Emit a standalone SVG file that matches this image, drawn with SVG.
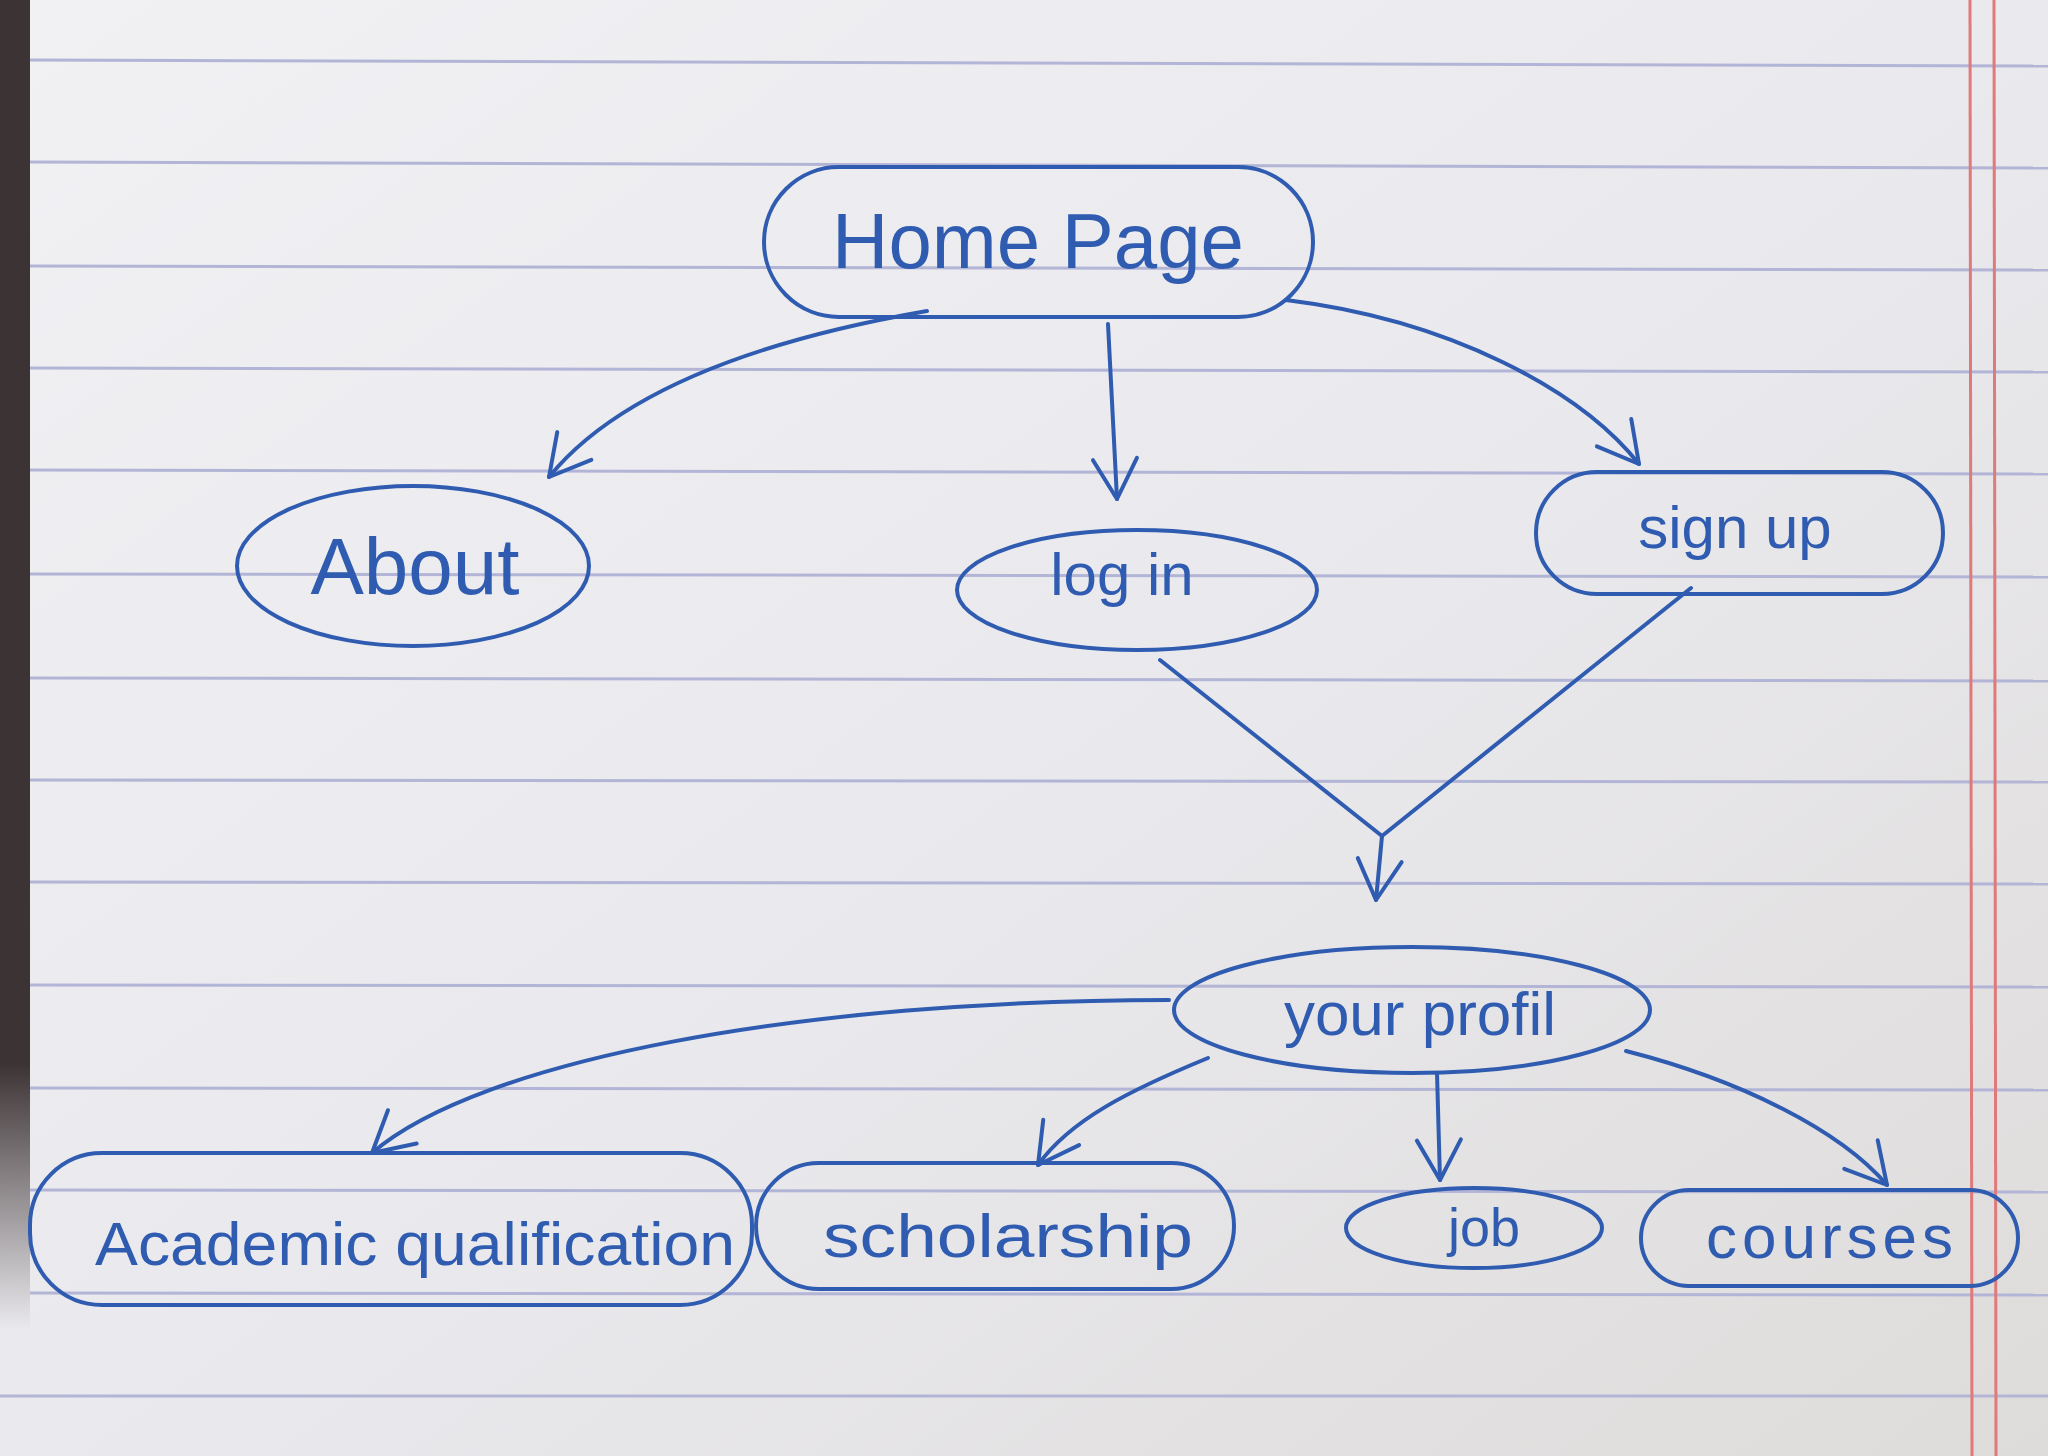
<svg xmlns="http://www.w3.org/2000/svg" width="2048" height="1456" viewBox="0 0 2048 1456">
  <defs>
    <linearGradient id="paper" x1="0" y1="0" x2="1" y2="1">
      <stop offset="0" stop-color="#f1f0f3"/>
      <stop offset="0.55" stop-color="#e9e8ec"/>
      <stop offset="1" stop-color="#dedcda"/>
    </linearGradient>
    <linearGradient id="edge" x1="0" y1="0" x2="0" y2="1">
      <stop offset="0" stop-color="#3c3334"/>
      <stop offset="0.8" stop-color="#3c3334"/>
      <stop offset="1" stop-color="#3c3334" stop-opacity="0"/>
    </linearGradient>
    <marker id="arr" viewBox="-50 -30 60 60" refX="0" refY="0" markerWidth="60" markerHeight="60" markerUnits="userSpaceOnUse" orient="auto">
      <path d="M -40,-22 L 0,0 L -40,22" fill="none" stroke="#2f5cb0" stroke-width="4" stroke-linecap="round" stroke-linejoin="round"/>
    </marker>
  </defs>
  <style>
    .ink { fill: none; stroke: #2f5cb0; stroke-width: 4; stroke-linecap: round; stroke-linejoin: round; }
    .lbl { font-family: "Liberation Sans", "DejaVu Sans", sans-serif; fill: #2f5cb0; text-anchor: middle; font-weight: normal; }
    .rule { stroke: #b3b5d6; stroke-width: 3; }
    .margin { stroke: #e07a7a; stroke-width: 3; }
  </style>

  <!-- paper background -->
  <g id="paper-bg">
    <rect x="0" y="0" width="2048" height="1456" fill="url(#paper)"/>
    <rect x="0" y="0" width="30" height="1330" fill="url(#edge)"/>
    <line class="rule" x1="30" y1="60" x2="2048" y2="66"/>
    <line class="rule" x1="30" y1="162" x2="2048" y2="168"/>
    <line class="rule" x1="30" y1="266" x2="2048" y2="270"/>
    <line class="rule" x1="30" y1="368" x2="2048" y2="372"/>
    <line class="rule" x1="30" y1="470" x2="2048" y2="474"/>
    <line class="rule" x1="30" y1="574" x2="2048" y2="577"/>
    <line class="rule" x1="30" y1="678" x2="2048" y2="681"/>
    <line class="rule" x1="30" y1="780" x2="2048" y2="782"/>
    <line class="rule" x1="30" y1="882" x2="2048" y2="884"/>
    <line class="rule" x1="30" y1="985" x2="2048" y2="987"/>
    <line class="rule" x1="30" y1="1088" x2="2048" y2="1090"/>
    <line class="rule" x1="30" y1="1190" x2="2048" y2="1192"/>
    <line class="rule" x1="30" y1="1293" x2="2048" y2="1295"/>
    <line class="rule" x1="0" y1="1396" x2="2048" y2="1396"/>
    <line class="margin" x1="1970" y1="0" x2="1972" y2="1456"/>
    <line class="margin" x1="1994" y1="0" x2="1996" y2="1456"/>
  </g>

  <!-- connectors -->
  <g id="connectors">
    <path class="ink" d="M 927,311 C 760,340 620,390 549,477" marker-end="url(#arr)"/>
    <path class="ink" d="M 1108,324 L 1117,499" marker-end="url(#arr)"/>
    <path class="ink" d="M 1286,300 C 1450,320 1580,390 1639,464" marker-end="url(#arr)"/>
    <path class="ink" d="M 1160,660 L 1382,836"/>
    <path class="ink" d="M 1691,588 L 1382,836"/>
    <path class="ink" d="M 1382,836 L 1376,900" marker-end="url(#arr)"/>
    <path class="ink" d="M 1169,1000 C 800,1000 480,1060 372,1153" marker-end="url(#arr)"/>
    <path class="ink" d="M 1208,1058 C 1130,1090 1070,1120 1038,1165" marker-end="url(#arr)"/>
    <path class="ink" d="M 1437,1073 L 1440,1180" marker-end="url(#arr)"/>
    <path class="ink" d="M 1626,1051 C 1740,1080 1840,1130 1887,1185" marker-end="url(#arr)"/>
  </g>

  <g id="node-home">
    <rect class="ink" x="764" y="167" width="549" height="150" rx="75"/>
    <text class="lbl" x="1038" y="268" font-size="78">Home Page</text>
  </g>
  <g id="node-about">
    <ellipse class="ink" cx="413" cy="566" rx="176" ry="80"/>
    <text class="lbl" x="415" y="594" font-size="80">About</text>
  </g>
  <g id="node-login">
    <ellipse class="ink" cx="1137" cy="590" rx="180" ry="60"/>
    <text class="lbl" x="1122" y="595" font-size="60">log in</text>
  </g>
  <g id="node-signup">
    <rect class="ink" x="1536" y="472" width="407" height="122" rx="61"/>
    <text class="lbl" x="1735" y="548" font-size="60">sign up</text>
  </g>
  <g id="node-profil">
    <ellipse class="ink" cx="1412" cy="1010" rx="238" ry="63"/>
    <text class="lbl" x="1420" y="1035" font-size="62">your profil</text>
  </g>
  <g id="node-academic">
    <rect class="ink" x="30" y="1153" width="722" height="152" rx="72"/>
    <text class="lbl" x="415" y="1265" font-size="62" textLength="640" lengthAdjust="spacingAndGlyphs">Academic qualification</text>
  </g>
  <g id="node-scholarship">
    <rect class="ink" x="756" y="1163" width="478" height="126" rx="63"/>
    <text class="lbl" x="1008" y="1257" font-size="62" textLength="370" lengthAdjust="spacingAndGlyphs">scholarship</text>
  </g>
  <g id="node-job">
    <ellipse class="ink" cx="1474" cy="1228" rx="128" ry="40"/>
    <text class="lbl" x="1484" y="1246" font-size="54">job</text>
  </g>
  <g id="node-courses">
    <rect class="ink" x="1641" y="1190" width="377" height="96" rx="48"/>
    <text class="lbl" x="1832" y="1258" font-size="62" letter-spacing="5">courses</text>
  </g>
</svg>
